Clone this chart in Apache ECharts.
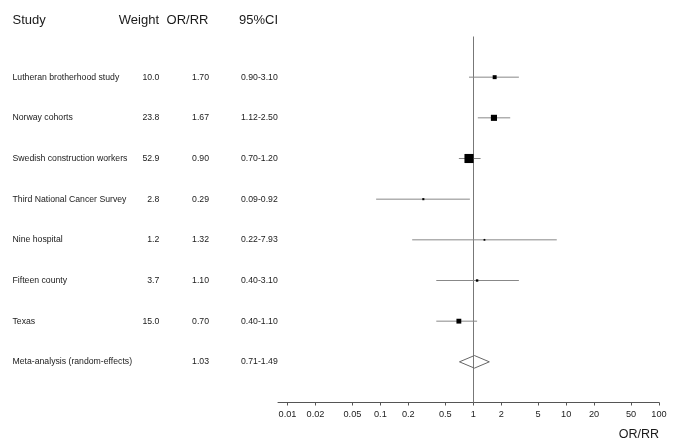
<!DOCTYPE html>
<html><head><meta charset="utf-8">
<script src="https://cdn.jsdelivr.net/npm/echarts@6/dist/echarts.min.js"></script>
<style>html,body{margin:0;padding:0;background:#fff}#c{width:685px;height:448px}</style>
</head><body><div id="c"></div>
<script>
const studies = ['Lutheran brotherhood study','Norway cohorts','Swedish construction workers','Third National Cancer Survey','Nine hospital','Fifteen county','Texas','Meta-analysis (random-effects)'];
const weights = [10.0, 23.8, 52.9, 2.8, 1.2, 3.7, 15.0, null];
const orrr = [1.70, 1.67, 0.90, 0.29, 1.32, 1.10, 0.70, 1.03];
const ciLow = [0.90, 1.12, 0.70, 0.09, 0.22, 0.40, 0.40, 0.71];
const ciHigh = [3.10, 2.50, 1.20, 0.92, 7.93, 3.10, 1.10, 1.49];
const ciText = ['0.90-3.10','1.12-2.50','0.70-1.20','0.09-0.92','0.22-7.93','0.40-3.10','0.40-1.10','0.71-1.49'];
const xTicks = [0.01, 0.02, 0.05, 0.1, 0.2, 0.5, 1, 2, 5, 10, 20, 50, 100];
const xTickLabels = ['0.01','0.02','0.05','0.1','0.2','0.5','1','2','5','10','20','50','100'];
const refValue = 1;
const headers = ['Study','Weight','OR/RR','95%CI'];

const FONT = '"Liberation Sans", Arial, sans-serif';
const TXT = '#1a1a1a';
const chart = echarts.init(document.getElementById('c'), null, {renderer:'canvas'});
const rowIdx = studies.map((s,i)=>i);
const data = studies.map((s,i)=>[i, orrr[i], ciLow[i], ciHigh[i], weights[i]==null?0:weights[i]]);

function rowAxis(margin, align, fmt){
  return {
    type:'value', inverse:true, min:-1, max:8, position:'left',
    axisLine:{show:false}, axisTick:{show:false}, splitLine:{show:false},
    axisLabel:{customValues:rowIdx, align:align, margin:margin, verticalAlign:'middle',
      fontSize:8.7, fontFamily:FONT, color:TXT,
      formatter:(v)=>fmt(Math.round(v))}
  };
}
function head(text, opts){
  return Object.assign({text:text, top:14, textStyle:{fontSize:13, fontWeight:'normal', fontFamily:FONT, color:TXT}, padding:0}, opts);
}

chart.setOption({
  animation:false,
  title:[
    head(headers[0], {left:12.5}),
    head(headers[1], {right:685-159}),
    head(headers[2], {right:685-208.5}),
    head(headers[3], {left:239})
  ],
  grid:{left:278, right:26, top:36.5, bottom:45.5},
  xAxis:{
    type:'log', logBase:10, min:0.0079, max:100,
    name:'OR/RR', nameLocation:'end', nameGap:0,
    nameTextStyle:{fontSize:12.5, fontFamily:FONT, color:TXT, align:'right', verticalAlign:'top', padding:[26,0,0,0]},
    axisLine:{onZero:false, lineStyle:{color:'#555', width:1}},
    axisTick:{show:true, length:3, customValues:xTicks, lineStyle:{color:'#555'}},
    axisLabel:{customValues:xTicks, margin:7, fontSize:9.2, fontFamily:FONT, color:'#222',
      formatter:(v)=>{ const k = xTicks.findIndex(t=>Math.abs(t-v)/t<1e-6); return k>=0?xTickLabels[k]:''; }},
    splitLine:{show:false}, minorTick:{show:false}
  },
  yAxis:[
    rowAxis(265.5, 'left', i=>studies[i]),
    rowAxis(278-159.3, 'right', i=>weights[i]==null?'':weights[i].toFixed(1)),
    rowAxis(278-209, 'right', i=>orrr[i].toFixed(2)),
    rowAxis(278-241, 'left', i=>ciText[i])
  ],
  series:[
    {
      type:'custom', clip:false, silent:true,
      data:[[refValue, -1, 8]],
      encode:{x:0, y:[1,2]},
      renderItem:(params, api)=>{
        const a = api.coord([api.value(0), api.value(1)]);
        const b = api.coord([api.value(0), api.value(2)]);
        return {type:'line', shape:{x1:Math.round(a[0])+0.5, y1:a[1], x2:Math.round(b[0])+0.5, y2:b[1]}, style:{stroke:'#777', lineWidth:1}};
      }
    },
    {
      type:'custom', clip:false, silent:true,
      data:data,
      encode:{x:[1,2,3], y:0},
      renderItem:(params, api)=>{
        const i = params.dataIndex;
        const y = api.value(0);
        const pE = api.coord([api.value(1), y]);
        const pL = api.coord([api.value(2), y]);
        const pH = api.coord([api.value(3), y]);
        if (weights[i]==null) {
          return {type:'polygon', shape:{points:[[pL[0],pE[1]],[pE[0],pE[1]-6.3],[pH[0],pE[1]],[pE[0],pE[1]+6.3]]},
            style:{stroke:'#666', fill:'none', lineWidth:1}};
        }
        const sz = Math.max(1.8, Math.sqrt(api.value(4))*1.25);
        return {type:'group', children:[
          {type:'line', shape:{x1:pL[0], y1:pE[1], x2:pH[0], y2:pE[1]}, style:{stroke:'#888', lineWidth:1}},
          {type:'rect', shape:{x:pE[0]-sz/2, y:pE[1]-sz/2, width:sz, height:sz}, style:{fill:'#000'}}
        ]};
      }
    }
  ]
});
</script></body></html>
